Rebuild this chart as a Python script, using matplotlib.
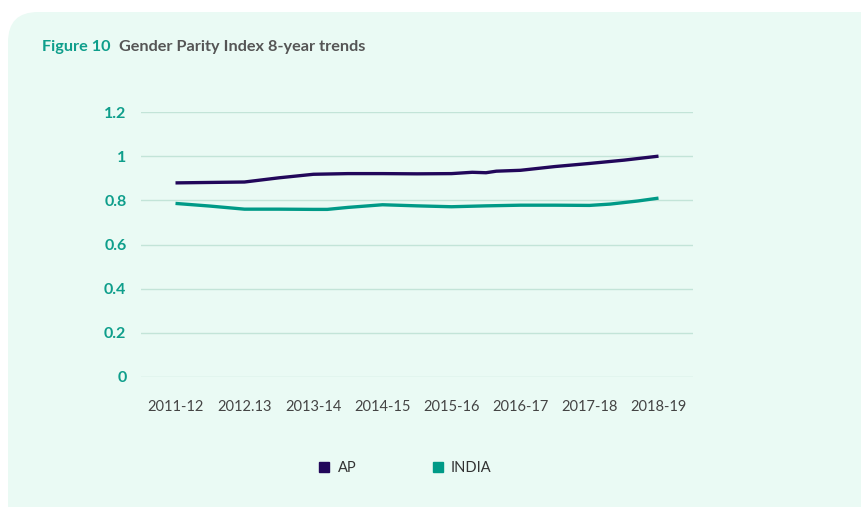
import matplotlib.pyplot as plt
from matplotlib.patches import FancyBboxPatch
from matplotlib.lines import Line2D
from matplotlib.transforms import IdentityTransform

plt.rcParams['font.family'] = ['Lato', 'DejaVu Sans']

# datos
years = ['2011-12', '2012.13', '2013-14', '2014-15', '2015-16', '2016-17', '2017-18', '2018-19']

ap_pos = [0, 0.5, 1, 1.5, 2, 2.5, 3, 3.5, 4, 4.3, 4.5, 4.65, 5, 5.5, 6, 6.5, 7]
ap_gpi = [0.879, 0.881, 0.883, 0.902, 0.918, 0.921, 0.921, 0.920, 0.921, 0.927,
          0.925, 0.932, 0.936, 0.953, 0.967, 0.982, 1.0]

india_pos = [0, 0.5, 1, 1.5, 2, 2.2, 2.5, 3, 3.5, 4, 4.5, 5, 5.5, 6, 6.3, 6.7, 7]
india_gpi = [0.786, 0.774, 0.760, 0.760, 0.759, 0.759, 0.768, 0.780, 0.775, 0.771,
             0.775, 0.778, 0.778, 0.777, 0.783, 0.797, 0.81]

y_ticks = [0, 0.2, 0.4, 0.6, 0.8, 1, 1.2]
y_labels = ['0', '0.2', '0.4', '0.6', '0.8', '1', '1.2']

AP_COLOR = '#22075A'
INDIA_COLOR = '#009A87'
TEAL = '#0E9E8B'
GRID = '#C3E4D8'
PANEL = '#EAFAF4'

fig = plt.figure(figsize=(8.62, 5.07), dpi=100)

# panel de fondo con esquina redondeada
panel = FancyBboxPatch((8, -40), 900, 535, boxstyle='round,pad=0,rounding_size=30',
                       transform=IdentityTransform(), facecolor=PANEL, edgecolor='none', zorder=-10)
fig.patches.append(panel)

fig.text(42 / 862, 1 - 47 / 507, 'Figure 10', color=TEAL, fontsize=11.7,
         fontweight='bold', va='center', ha='left')
fig.text(119 / 862, 1 - 47 / 507, 'Gender Parity Index 8-year trends', color='#555555',
         fontsize=11.7, fontweight='bold', va='center', ha='left')

ax = fig.add_axes([141 / 862, 1 - 377 / 507, 552 / 862, 265 / 507])
ax.set_facecolor('none')
ax.set_zorder(2)

ax.plot(ap_pos, ap_gpi, color=AP_COLOR, lw=2.4, solid_capstyle='butt', zorder=3)
ax.plot(india_pos, india_gpi, color=INDIA_COLOR, lw=2.4, solid_capstyle='butt', zorder=3)

ax.set_xlim(-0.5, 7.5)
ax.set_ylim(0, 1.2)
ax.set_yticks(y_ticks)
ax.set_yticklabels(y_labels, color=TEAL, fontsize=11.5, fontweight='bold')
ax.set_xticks(range(len(years)))
ax.set_xticklabels(years, color='#444444', fontsize=10.5)
ax.tick_params(axis='y', length=0, pad=10.5)
ax.tick_params(axis='x', length=0, pad=16.5)
ax.grid(axis='y', color=GRID, lw=1, zorder=1)
for s in ax.spines.values():
    s.set_visible(False)

handles = [Line2D([], [], color=AP_COLOR, marker='s', ls='none', markersize=6.5),
           Line2D([], [], color=INDIA_COLOR, marker='s', ls='none', markersize=6.5)]
fig.legend(handles, ['AP', 'INDIA'], loc='center', bbox_to_anchor=(405 / 862, 1 - 468 / 507),
           ncol=2, frameon=False, fontsize=10.5, handlelength=0.8, handletextpad=0.5,
           columnspacing=5.2, labelcolor='#333333')

fig.savefig('out.png', dpi=100, facecolor='white')
